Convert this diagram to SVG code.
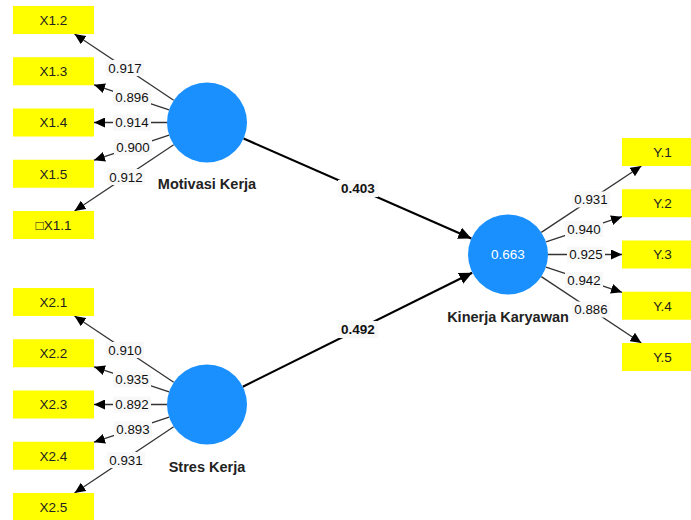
<svg xmlns="http://www.w3.org/2000/svg" width="691" height="520" viewBox="0 0 691 520">
<defs>
<marker id="ah" markerUnits="userSpaceOnUse" markerWidth="11" markerHeight="10" refX="11" refY="5" orient="auto"><path d="M0,0 L11,5 L0,10 z" fill="#000"/></marker>
<marker id="ahb" markerUnits="userSpaceOnUse" markerWidth="13" markerHeight="12" refX="13" refY="6" orient="auto"><path d="M0,0 L13,6 L0,12 z" fill="#000"/></marker>
<style>
.box{fill:#ffff00}
.bt{font-family:"Liberation Sans",Arial,sans-serif;font-size:13.5px;fill:#222;text-anchor:middle}
.ld{stroke:#333;stroke-width:1.3;fill:none;marker-end:url(#ah)}
.pl{stroke:#000;stroke-width:2.2;fill:none;marker-end:url(#ahb)}
.lb{fill:#f8f8f8}
.lt{font-family:"Liberation Sans",Arial,sans-serif;font-size:13.3px;fill:#111;text-anchor:middle}
.pt{font-family:"Liberation Sans",Arial,sans-serif;font-size:13.5px;font-weight:bold;fill:#111;text-anchor:middle}
.lv{fill:#1a90ff}
.nt{font-family:"Liberation Sans",Arial,sans-serif;font-size:14.5px;font-weight:bold;fill:#222;text-anchor:middle}
.rt{font-family:"Liberation Sans",Arial,sans-serif;font-size:13.5px;fill:#fff;text-anchor:middle}
</style>
</defs>
<g id="connectors">
<line class="ld" x1="173.7" y1="100.3" x2="74.5" y2="34"/>
<line class="ld" x1="169.1" y1="109.8" x2="94" y2="84.8"/>
<line class="ld" x1="167" y1="122.5" x2="94" y2="122.5"/>
<line class="ld" x1="169.1" y1="135.2" x2="94" y2="160.2"/>
<line class="ld" x1="173.7" y1="144.7" x2="74.5" y2="211"/>
<line class="ld" x1="173.7" y1="382.3" x2="74.5" y2="316"/>
<line class="ld" x1="169.1" y1="391.8" x2="94" y2="366.8"/>
<line class="ld" x1="167" y1="404.5" x2="94" y2="404.5"/>
<line class="ld" x1="169.1" y1="417.2" x2="94" y2="442.2"/>
<line class="ld" x1="173.7" y1="426.7" x2="74.5" y2="493"/>
<line class="ld" x1="541.3" y1="232.4" x2="641.4" y2="166"/>
<line class="ld" x1="546" y1="241.9" x2="622" y2="216.7"/>
<line class="ld" x1="548" y1="254.5" x2="622" y2="254.5"/>
<line class="ld" x1="546" y1="267.1" x2="622" y2="292.3"/>
<line class="ld" x1="541.3" y1="276.6" x2="641.4" y2="343"/>
<line class="pl" x1="243.6" y1="138.6" x2="471.4" y2="238.4"/>
<line class="pl" x1="242.8" y1="386.7" x2="472.2" y2="272.7"/>
<g id="loading-labels">
<rect class="lb" x="106" y="60" width="38" height="16"/><text class="lt" x="125" y="72.5">0.917</text>
<rect class="lb" x="113" y="89.5" width="38" height="16"/><text class="lt" x="132" y="102">0.896</text>
<rect class="lb" x="113" y="114.5" width="38" height="16"/><text class="lt" x="132" y="127">0.914</text>
<rect class="lb" x="114" y="139.5" width="38" height="16"/><text class="lt" x="133" y="152">0.900</text>
<rect class="lb" x="107" y="169" width="38" height="16"/><text class="lt" x="126" y="181.5">0.912</text>
<rect class="lb" x="106" y="342" width="38" height="16"/><text class="lt" x="125" y="354.5">0.910</text>
<rect class="lb" x="113" y="371.5" width="38" height="16"/><text class="lt" x="132" y="384">0.935</text>
<rect class="lb" x="113" y="396.5" width="38" height="16"/><text class="lt" x="132" y="409">0.892</text>
<rect class="lb" x="114" y="421.5" width="38" height="16"/><text class="lt" x="133" y="434">0.893</text>
<rect class="lb" x="107" y="452" width="38" height="16"/><text class="lt" x="126" y="464.5">0.931</text>
<rect class="lb" x="572" y="191.5" width="38" height="16"/><text class="lt" x="591" y="204">0.931</text>
<rect class="lb" x="565" y="221" width="38" height="16"/><text class="lt" x="584" y="233.5">0.940</text>
<rect class="lb" x="567" y="246.5" width="38" height="16"/><text class="lt" x="586" y="259">0.925</text>
<rect class="lb" x="565" y="272" width="38" height="16"/><text class="lt" x="584" y="284.5">0.942</text>
<rect class="lb" x="572" y="301.5" width="38" height="16"/><text class="lt" x="591" y="314">0.886</text>
<rect class="lb" x="338" y="180" width="40" height="17"/><text class="pt" x="358" y="193">0.403</text>
<rect class="lb" x="338" y="321" width="40" height="17"/><text class="pt" x="358" y="334">0.492</text>
</g>
</g>
<g id="X1.2"><rect class="box" x="13" y="6" width="81" height="28"/><text class="bt" x="53.5" y="24.8">X1.2</text></g>
<g id="X1.3"><rect class="box" x="13" y="57.25" width="81" height="28"/><text class="bt" x="53.5" y="76">X1.3</text></g>
<g id="X1.4"><rect class="box" x="13" y="108.5" width="81" height="28"/><text class="bt" x="53.5" y="127.3">X1.4</text></g>
<g id="X1.5"><rect class="box" x="13" y="159.75" width="81" height="28"/><text class="bt" x="53.5" y="178.5">X1.5</text></g>
<g id="X1.1"><rect class="box" x="13" y="211" width="81" height="28"/><text class="bt" x="53.5" y="229.8">□X1.1</text></g>
<g id="X2.1"><rect class="box" x="13" y="288" width="81" height="28"/><text class="bt" x="53.5" y="306.8">X2.1</text></g>
<g id="X2.2"><rect class="box" x="13" y="339.25" width="81" height="28"/><text class="bt" x="53.5" y="358">X2.2</text></g>
<g id="X2.3"><rect class="box" x="13" y="390.5" width="81" height="28"/><text class="bt" x="53.5" y="409.3">X2.3</text></g>
<g id="X2.4"><rect class="box" x="13" y="441.75" width="81" height="28"/><text class="bt" x="53.5" y="460.5">X2.4</text></g>
<g id="X2.5"><rect class="box" x="13" y="493" width="81" height="28"/><text class="bt" x="53.5" y="511.8">X2.5</text></g>
<g id="Y.1"><rect class="box" x="622" y="138" width="81" height="28"/><text class="bt" x="662.5" y="156.8">Y.1</text></g>
<g id="Y.2"><rect class="box" x="622" y="189.25" width="81" height="28"/><text class="bt" x="662.5" y="208">Y.2</text></g>
<g id="Y.3"><rect class="box" x="622" y="240.5" width="81" height="28"/><text class="bt" x="662.5" y="259.3">Y.3</text></g>
<g id="Y.4"><rect class="box" x="622" y="291.75" width="81" height="28"/><text class="bt" x="662.5" y="310.5">Y.4</text></g>
<g id="Y.5"><rect class="box" x="622" y="343" width="81" height="28"/><text class="bt" x="662.5" y="361.8">Y.5</text></g>
<g id="motivasi-kerja"><circle class="lv" cx="207" cy="122.5" r="40"/><text class="nt" x="207" y="189">Motivasi Kerja</text></g>
<g id="stres-kerja"><circle class="lv" cx="207" cy="404.5" r="40"/><text class="nt" x="207" y="472">Stres Kerja</text></g>
<g id="kinerja-karyawan"><circle class="lv" cx="508" cy="254.5" r="40"/><text class="rt" x="508" y="259.3">0.663</text><text class="nt" x="508" y="322">Kinerja Karyawan</text></g>
</svg>
